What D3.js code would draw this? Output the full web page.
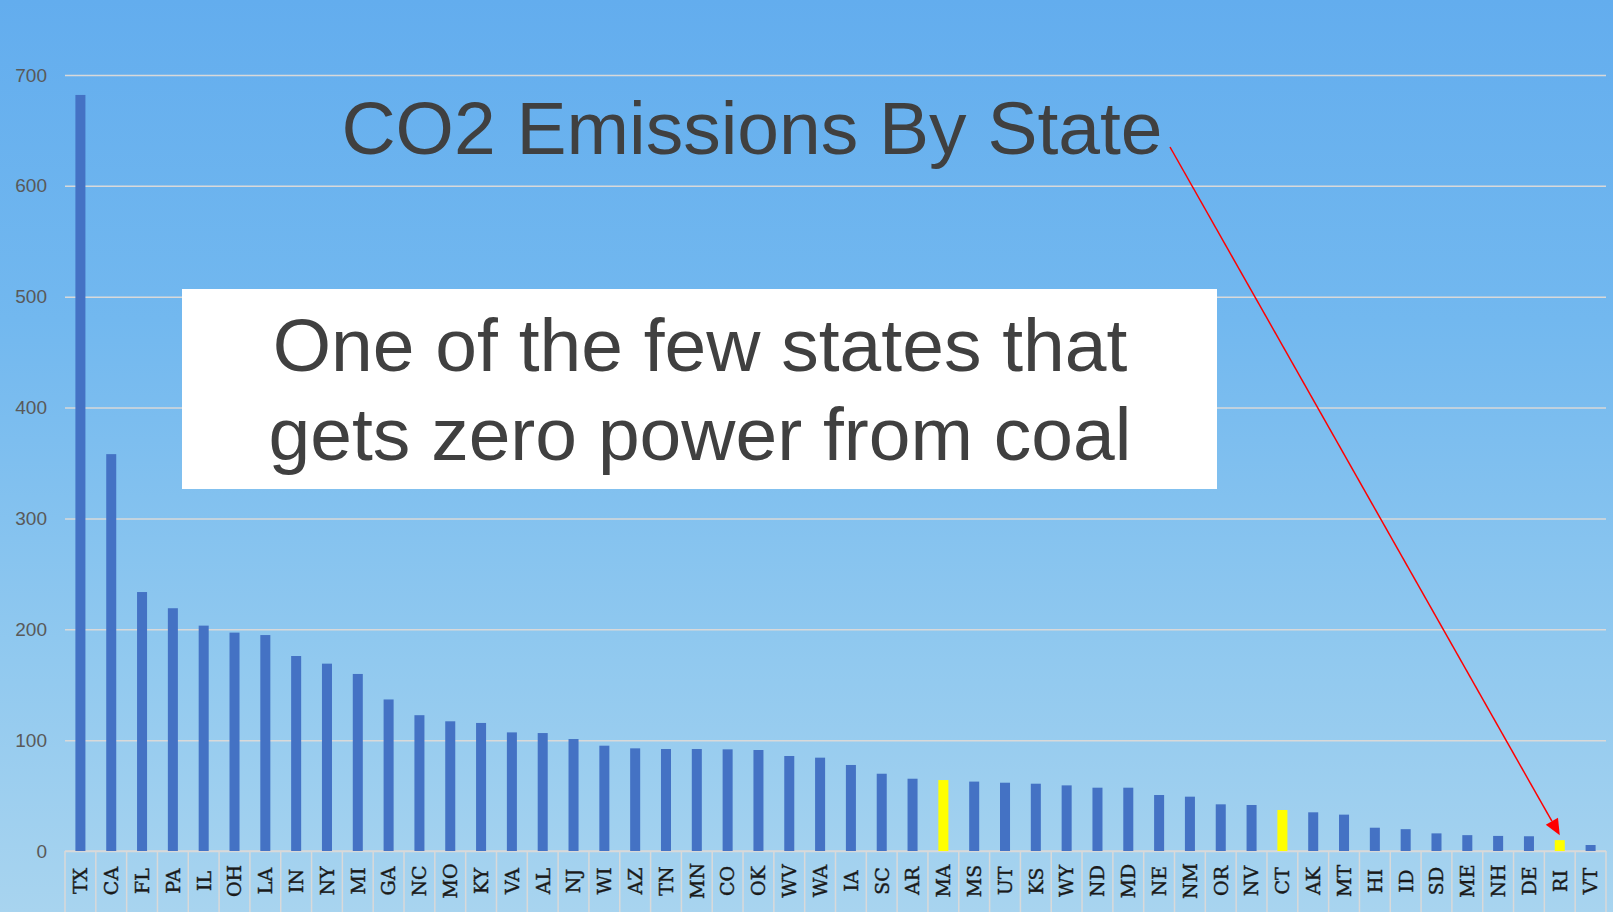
<!DOCTYPE html>
<meta charset="utf-8">
<style>
body { margin: 0; }
svg { display: block; }
.grid line { stroke: #d9d9d9; stroke-width: 1.5px; }
.grid path { display: none; }
.grid text { fill: #595959; font: 19px "Liberation Sans", Arial, sans-serif; }
.cat line { stroke: #d9d9d9; stroke-width: 1.5px; }
.cat text { fill: #1a1a1a; stroke: #1a1a1a; stroke-width: 0.4px; font: 19px "DejaVu Serif", serif; }
</style>
<body>
<script src="https://d3js.org/d3.v7.min.js"></script>
<script>

// data (million metric tons CO2)
var states = ["TX","CA","FL","PA","IL","OH","LA","IN","NY","MI","GA","NC","MO","KY","VA","AL","NJ",
  "WI","AZ","TN","MN","CO","OK","WV","WA","IA","SC","AR","MA","MS","UT","KS","WY","ND","MD","NE",
  "NM","OR","NV","CT","AK","MT","HI","ID","SD","ME","NH","DE","RI","VT"];
var emissions = [682, 358, 233.6, 219, 203.3, 197, 194.8, 175.9, 169, 159.7, 136.7, 122.5, 117, 115.5,
  107, 106.4, 101, 95, 92.6, 92, 92, 91.7, 91.1, 85.7, 84.2, 77.6, 69.7, 65.2, 64, 62.6, 61.6, 60.7,
  59.2, 57.1, 57.1, 50.5, 49, 42.1, 41.5, 37, 34.9, 32.8, 21, 19.7, 15.9, 14.3, 13.6, 13.3, 9.8, 5.4];
var noCoal = ["MA", "CT", "RI"];
var yTicks = [0, 100, 200, 300, 400, 500, 600, 700];
var titleText = "CO2 Emissions By State";
var noteLines = ["One of the few states that", "gets zero power from coal"];
var pointedState = "RI";

var W = 1613, H = 912;
var plotLeft = 65, plotRight = 1606, plotTop = 75, plotBase = 851;

var data = states.map(function(s, i) { return {state: s, value: emissions[i]}; });

var svg = d3.select("body").append("svg")
    .attr("width", W)
    .attr("height", H);

// sky background
var defs = svg.append("defs");
var grad = defs.append("linearGradient")
    .attr("id", "sky")
    .attr("x1", 0).attr("y1", 0).attr("x2", 0).attr("y2", 1);
grad.append("stop").attr("offset", "0%").attr("stop-color", "#63adee");
grad.append("stop").attr("offset", "35%").attr("stop-color", "#72b8ef");
grad.append("stop").attr("offset", "70%").attr("stop-color", "#8fc8ef");
grad.append("stop").attr("offset", "100%").attr("stop-color", "#a8d4ef");

svg.append("rect")
    .attr("width", W)
    .attr("height", H)
    .attr("fill", "url(#sky)");

// scales
var x = d3.scaleBand()
    .domain(states)
    .range([plotLeft, plotRight])
    .paddingInner(0.675)
    .paddingOuter(0.3375);
var xCell = d3.scaleBand()
    .domain(states)
    .range([plotLeft, plotRight])
    .padding(0);
var y = d3.scaleLinear()
    .domain([0, 700])
    .range([plotBase, plotTop]);

// gridlines + y labels
svg.append("g")
    .attr("class", "grid")
    .attr("transform", "translate(" + plotLeft + ",0)")
    .call(d3.axisLeft(y).tickValues(yTicks).tickSize(-(plotRight - plotLeft)).tickPadding(18));

// category boxes below the axis
var cat = svg.append("g").attr("class", "cat");
cat.append("line")
    .attr("x1", plotLeft).attr("x2", plotRight)
    .attr("y1", plotBase).attr("y2", plotBase);
cat.selectAll("line.sep")
    .data(states)
    .enter().append("line")
    .attr("class", "sep")
    .attr("x1", function(d) { return xCell(d); })
    .attr("x2", function(d) { return xCell(d); })
    .attr("y1", plotBase).attr("y2", H);
cat.append("line")
    .attr("x1", plotRight).attr("x2", plotRight)
    .attr("y1", plotBase).attr("y2", H);
cat.selectAll("text")
    .data(states)
    .enter().append("text")
    .attr("transform", function(d) {
      return "translate(" + (xCell(d) + xCell.bandwidth() / 2) + "," + 881 + ") rotate(-90)";
    })
    .attr("dy", "0.36em")
    .attr("text-anchor", "middle")
    .text(function(d) { return d; });

// bars
svg.selectAll(".bar")
    .data(data)
    .enter().append("rect")
    .attr("class", "bar")
    .attr("x", function(d) { return x(d.state); })
    .attr("width", x.bandwidth())
    .attr("y", function(d) { return y(d.value); })
    .attr("height", function(d) { return plotBase - y(d.value); })
    .attr("fill", function(d) { return noCoal.indexOf(d.state) >= 0 ? "#ffff00" : "#4472c4"; });

// title
svg.append("text")
    .attr("x", 752)
    .attr("y", 154)
    .attr("text-anchor", "middle")
    .style("font", "75px 'Liberation Sans', Arial, sans-serif")
    .style("fill", "#404040")
    .text(titleText);

// note box
svg.append("rect")
    .attr("x", 182)
    .attr("y", 289)
    .attr("width", 1035)
    .attr("height", 200)
    .attr("fill", "#ffffff");

svg.append("g").selectAll("text")
    .data(noteLines)
    .enter().append("text")
    .attr("x", 700)
    .attr("y", function(d, i) { return 371 + i * 89; })
    .attr("text-anchor", "middle")
    .style("font", "75px 'Liberation Sans', Arial, sans-serif")
    .style("fill", "#404040")
    .text(function(d) { return d; });

// arrow from title to RI
var rv = emissions[states.indexOf(pointedState)];
var tipX = x(pointedState) + x.bandwidth() / 2,
    tipY = y(rv) - 5;
var startX = 1170, startY = 147;
var ang = Math.atan2(tipY - startY, tipX - startX);
var headLen = 16, headW = 7;
var bx = tipX - headLen * Math.cos(ang), by = tipY - headLen * Math.sin(ang);

svg.append("line")
    .attr("x1", startX).attr("y1", startY)
    .attr("x2", bx).attr("y2", by)
    .attr("stroke", "#ff0000")
    .attr("stroke-width", 1.5);

svg.append("path")
    .attr("d", "M" + tipX + "," + tipY +
      "L" + (bx + headW * Math.sin(ang)) + "," + (by - headW * Math.cos(ang)) +
      "L" + (bx - headW * Math.sin(ang)) + "," + (by + headW * Math.cos(ang)) + "Z")
    .attr("fill", "#ff0000");

</script>
</body>
